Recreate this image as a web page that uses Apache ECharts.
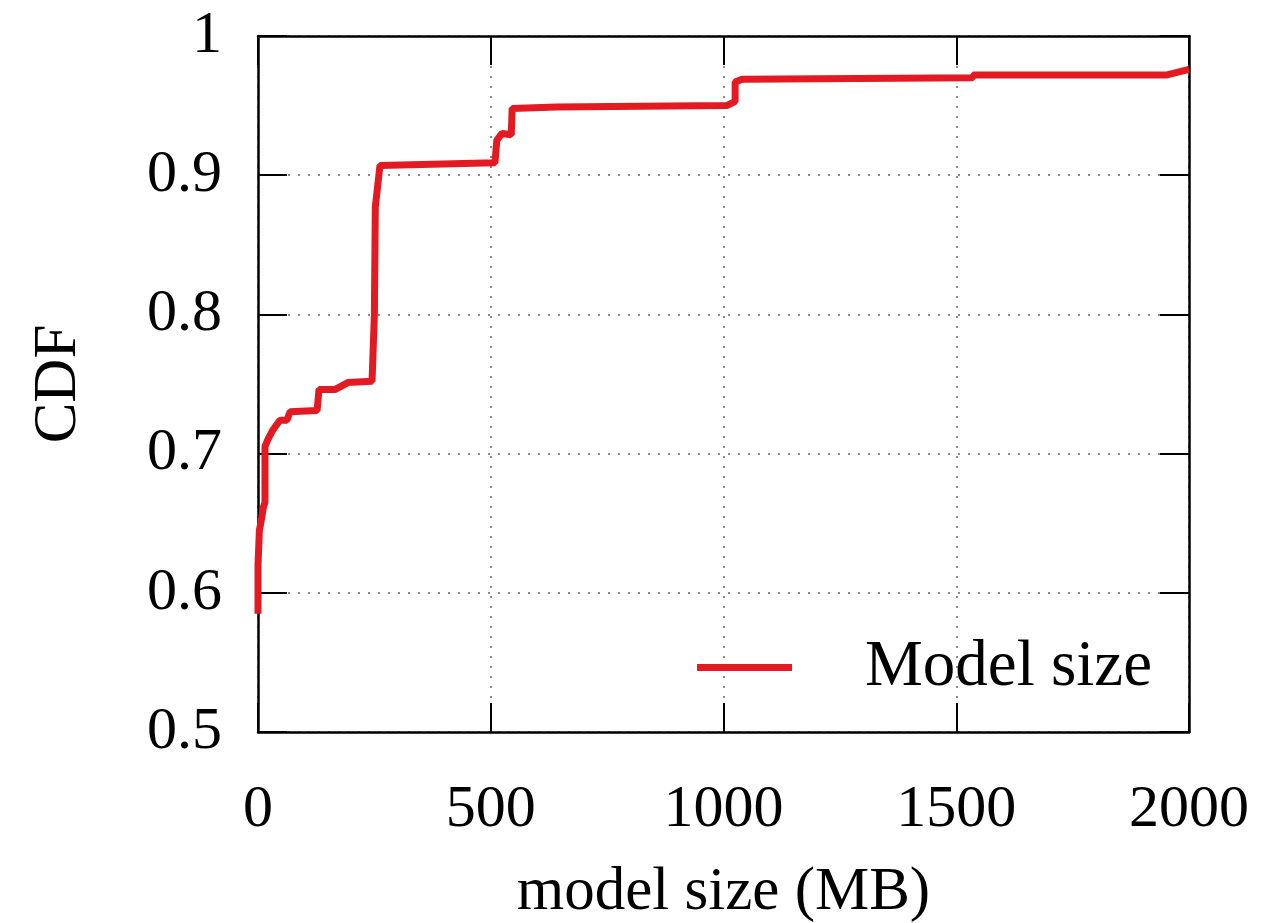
<!DOCTYPE html>
<html>
<head>
<meta charset="utf-8">
<script src="https://cdn.jsdelivr.net/npm/echarts@6/dist/echarts.min.js"></script>
<style>
  html, body { margin: 0; padding: 0; background: #fff; }
  #chart { width: 1270px; height: 923px; }
</style>
</head>
<body>
<div id="chart"></div>
<script>
'use strict';
/* model size CDF */

var sizeMB = [0, 0, 3, 6, 12, 15, 15, 21, 32, 47, 62, 69, 127, 131, 165, 193, 245, 250, 252, 262, 509, 513, 524, 544, 546, 642, 1007, 1025, 1025, 1040, 1536, 1536, 1953, 2000];
var cdfValues = [0.585, 0.62, 0.645, 0.650, 0.662, 0.665, 0.705, 0.710, 0.717, 0.724, 0.724, 0.730, 0.731, 0.746, 0.746, 0.751, 0.752, 0.80, 0.877, 0.907, 0.909, 0.925, 0.930, 0.929, 0.948, 0.949, 0.950, 0.953, 0.967, 0.969, 0.970, 0.972, 0.972, 0.976];
var xTicks = [0, 500, 1000, 1500, 2000];
var yTicks = [0.5, 0.6, 0.7, 0.8, 0.9, 1];
var seriesName = 'Model size';

var font = '"Liberation Serif", "DejaVu Serif", serif';
var points = [];
for (var i = 0; i < sizeMB.length; i++) {
  points.push([sizeMB[i], cdfValues[i]]);
}

var chart = echarts.init(document.getElementById('chart'));

var tickStyle = { show: true, inside: true, length: 29, lineStyle: { color: '#000', width: 2 } };
var gridLine = { show: true, lineStyle: { color: '#666', width: 1.5, type: [2, 8] } };
var frameLine = { show: true, onZero: false, lineStyle: { color: '#000', width: 2.5 } };

var option = {
  animation: false,
  backgroundColor: '#fff',
  grid: {
    left: 258,
    right: 81,
    top: 36,
    bottom: 191,
    outerBoundsMode: 'none',
    containLabel: false
  },
  legend: {
    data: [seriesName],
    right: 113,
    top: 630,
    icon: 'rect',
    itemWidth: 95,
    itemHeight: 7,
    textStyle: {
      fontFamily: font,
      fontSize: 65,
      color: '#000',
      padding: [0, 0, 0, 68]
    }
  },
  xAxis: [{
    type: 'value',
    min: xTicks[0],
    max: xTicks[xTicks.length - 1],
    interval: 500,
    name: 'model size (MB)',
    nameLocation: 'middle',
    nameGap: 130,
    nameTextStyle: { fontFamily: font, fontSize: 61, color: '#000' },
    axisLine: frameLine,
    axisTick: tickStyle,
    axisLabel: {
      fontFamily: font, fontSize: 60, color: '#000', margin: 48,
      showMinLabel: true, showMaxLabel: true,
      formatter: function(v) { return String(v); }
    },
    splitLine: gridLine
  }, {
    type: 'value',
    show: true,
    gridIndex: 0,
    position: 'top',
    min: xTicks[0],
    max: xTicks[xTicks.length - 1],
    interval: 500,
    axisLine: frameLine,
    axisTick: tickStyle,
    axisLabel: { show: false },
    splitLine: { show: false }
  }],
  yAxis: [{
    type: 'value',
    min: yTicks[0],
    max: yTicks[yTicks.length - 1],
    interval: 0.1,
    name: 'CDF',
    nameLocation: 'middle',
    nameGap: 169,
    nameTextStyle: { fontFamily: font, fontSize: 61, color: '#000' },
    axisLine: frameLine,
    axisTick: tickStyle,
    axisLabel: { fontFamily: font, fontSize: 60, color: '#000', margin: 36 },
    splitLine: gridLine
  }, {
    type: 'value',
    show: true,
    gridIndex: 0,
    position: 'right',
    min: yTicks[0],
    max: yTicks[yTicks.length - 1],
    interval: 0.1,
    axisLine: frameLine,
    axisTick: tickStyle,
    axisLabel: { show: false },
    splitLine: { show: false }
  }],
  series: [{
    name: seriesName,
    type: 'line',
    data: points,
    showSymbol: false,
    symbol: 'none',
    color: '#e31a22',
    lineStyle: { color: '#e31a22', width: 7 },
    z: 5
  }, {
    // empty series tied to the mirrored axes so their ticks are laid out
    type: 'line',
    xAxisIndex: 1,
    yAxisIndex: 1,
    data: [],
    silent: true
  }]
};

chart.setOption(option);
</script>
</body>
</html>
